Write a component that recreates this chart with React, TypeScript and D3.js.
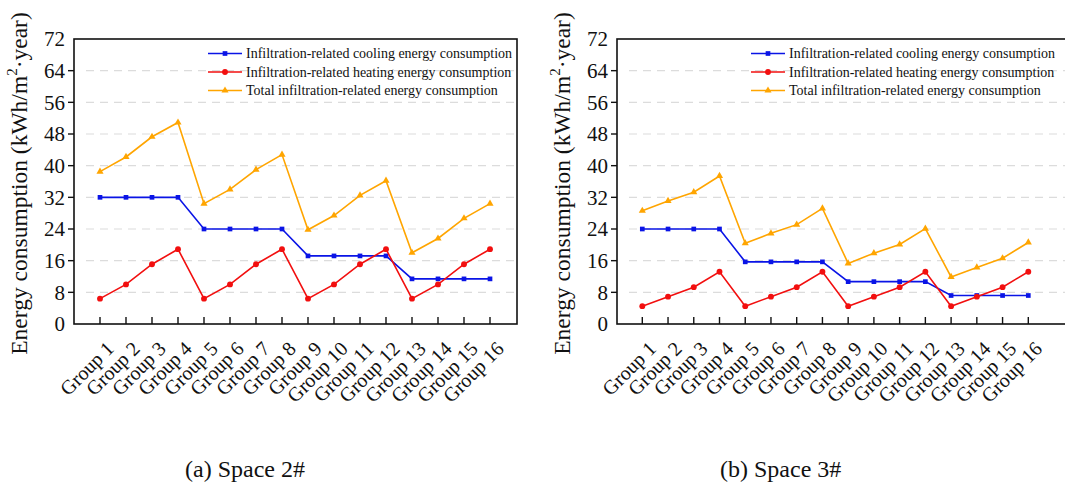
import * as d3 from "d3";

const groups = d3.range(1, 17).map((i) => `Group ${i}`);
const yTicks = [0, 8, 16, 24, 32, 40, 48, 56, 64, 72];

// Space 2#
const cooling2 = [32, 32, 32, 32, 24, 24, 24, 24, 17.2, 17.2, 17.2, 17.2, 11.4, 11.4, 11.4, 11.4];
const heating2 = [6.4, 10, 15.1, 18.9, 6.4, 10, 15.1, 18.9, 6.4, 10, 15.1, 18.9, 6.4, 10, 15.1, 18.9];
const total2 = [38.5, 42.2, 47.3, 50.9, 30.4, 34.0, 39.0, 42.8, 23.8, 27.4, 32.5, 36.2, 18.0, 21.6, 26.7, 30.4];

// Space 3#
const cooling3 = [24, 24, 24, 24, 15.7, 15.7, 15.7, 15.7, 10.7, 10.7, 10.7, 10.7, 7.2, 7.2, 7.2, 7.2];
const heating3 = [4.5, 6.9, 9.3, 13.2, 4.5, 6.9, 9.3, 13.2, 4.5, 6.9, 9.3, 13.2, 4.5, 6.9, 9.3, 13.2];
const total3 = [28.6, 31.1, 33.3, 37.4, 20.4, 22.9, 25.1, 29.2, 15.3, 17.9, 20.1, 24.1, 11.9, 14.3, 16.6, 20.6];

const seriesNames = [
  "Infiltration-related cooling energy consumption",
  "Infiltration-related heating energy consumption",
  "Total infiltration-related energy consumption",
];
const colors = ["#0a14e6", "#f20f0f", "#ffa500"];
const symbols = [d3.symbolSquare, d3.symbolCircle, d3.symbolTriangle];
const symbolSizes = [22, 27, 22];

const FONT = "Liberation Serif";

type PanelProps = {
  left: number;
  right: number;
  firstX: number;
  lastX: number;
  series: number[][];
  caption: string;
  captionX: number;
};

const TOP = 39;
const BOTTOM = 324;

const Panel = ({ left, right, firstX, lastX, series, caption, captionX }: PanelProps) => {
  const xScale = d3.scaleLinear().domain([1, 16]).range([firstX, lastX]);
  const yScale = d3.scaleLinear().domain([0, 72]).range([BOTTOM, TOP]);
  const line = d3
    .line<number>()
    .x((_, i) => xScale(i + 1))
    .y((d) => yScale(d));

  const legendX = left + 134;
  const legendY = [53.5, 72, 90.5];

  return (
    <g style={{ fontFamily: FONT }}>
      {/* grid */}
      {yTicks
        .filter((t) => t > 0 && t < 72)
        .map((t) => (
          <line
            key={t}
            x1={left + 12}
            x2={right - 2}
            y1={yScale(t)}
            y2={yScale(t)}
            stroke="#dcdcdc"
            strokeWidth={1.2}
            strokeDasharray="8,6"
          />
        ))}
      {/* series */}
      {series.map((s, si) => (
        <g key={si}>
          <path d={line(s) ?? ""} fill="none" stroke={colors[si]} strokeWidth={1.6} />
          {s.map((v, i) => (
            <path
              key={i}
              d={d3.symbol(symbols[si], symbolSizes[si])() ?? ""}
              transform={`translate(${xScale(i + 1)},${yScale(v)})`}
              fill={colors[si]}
            />
          ))}
        </g>
      ))}
      {/* frame */}
      <rect x={left} y={TOP} width={right - left} height={BOTTOM - TOP} fill="none" stroke="#111" strokeWidth={1.6} />
      {/* y ticks */}
      {yTicks.map((t) => (
        <g key={t}>
          {t > 0 && t < 72 && (
            <line x1={left - 6} x2={left} y1={yScale(t)} y2={yScale(t)} stroke="#111" strokeWidth={1.4} />
          )}
          <text x={left - 9} y={yScale(t)} dy="0.35em" textAnchor="end" fontSize={21} fill="#111">
            {t}
          </text>
        </g>
      ))}
      {/* x ticks */}
      {groups.map((g, i) => (
        <g key={g}>
          <line
            x1={xScale(i + 1)}
            x2={xScale(i + 1)}
            y1={BOTTOM}
            y2={BOTTOM - 7}
            stroke="#111"
            strokeWidth={1.4}
          />
          <text
            transform={`translate(${xScale(i + 1) + 15},${BOTTOM + 26}) rotate(-45)`}
            textAnchor="end"
            fontSize={20}
            fill="#111"
          >
            {g}
          </text>
        </g>
      ))}
      {/* y label */}
      <text
        transform={`translate(${left - 47},${(TOP + BOTTOM) / 2 + 2}) rotate(-90)`}
        textAnchor="middle"
        fontSize={23.5}
        fill="#111"
      >
        Energy consumption (kWh/m
        <tspan dy={-10} fontSize={15}>
          2
        </tspan>
        <tspan dy={10}>·year)</tspan>
      </text>
      {/* legend */}
      {seriesNames.map((n, si) => (
        <g key={n}>
          <line
            x1={legendX}
            x2={legendX + 34}
            y1={legendY[si]}
            y2={legendY[si]}
            stroke={colors[si]}
            strokeWidth={1.6}
          />
          <path
            d={d3.symbol(symbols[si], symbolSizes[si])() ?? ""}
            transform={`translate(${legendX + 17},${legendY[si]})`}
            fill={colors[si]}
          />
          <text x={legendX + 38} y={legendY[si]} dy="0.33em" fontSize={14} fill="#111">
            {n}
          </text>
        </g>
      ))}
      {/* caption */}
      <text x={captionX} y={477} fontSize={24} fill="#111">
        {caption}
      </text>
    </g>
  );
};

export default function App() {
  return (
    <div style={{ position: "absolute", left: 0, top: 0 }}>
      <svg width={1065} height={490} style={{ display: "block", background: "white" }}>
        <Panel
          left={74}
          right={517}
          firstX={100}
          lastX={490}
          series={[cooling2, heating2, total2]}
          caption="(a) Space 2#"
          captionX={185}
        />
        <Panel
          left={617}
          right={1068}
          firstX={642.3}
          lastX={1028.3}
          series={[cooling3, heating3, total3]}
          caption="(b) Space 3#"
          captionX={720}
        />
      </svg>
    </div>
  );
}
